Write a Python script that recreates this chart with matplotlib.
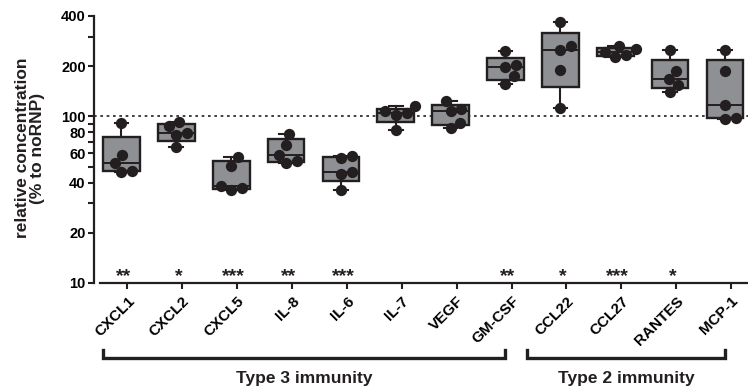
"""Relative cytokine concentrations (% to noRNP), box plots with dots."""
import numpy as np
import matplotlib
matplotlib.use("Agg")
from matplotlib import pyplot as plt
from matplotlib import ticker, transforms

plt.rcParams["font.family"] = ["Liberation Sans", "DejaVu Sans"]
plt.rcParams["font.weight"] = "bold"

categories = ["CXCL1", "CXCL2", "CXCL5", "IL-8", "IL-6", "IL-7",
              "VEGF", "GM-CSF", "CCL22", "CCL27", "RANTES", "MCP-1"]

cxcl1 = [91, 59, 52.5, 47, 46.4]
cxcl2 = [92, 87, 79.4, 77.6, 65.4]
cxcl5 = [57, 50.5, 38, 37.1, 36.3]
il8 = [78.3, 67.6, 58.8, 54.2, 52.5]
il6 = [58, 56.2, 46.1, 45.3, 36.3]
il7 = [114.7, 107, 104.7, 102.2, 83.1]
vegf = [124, 111, 108, 91.2, 85.1]
gmcsf = [245, 204, 198, 173.5, 157]
ccl22 = [366, 266, 251, 190, 112]
ccl27 = [263, 252, 244, 234, 228]
rantes = [248.5, 187.7, 167.4, 154.8, 140]
mcp1 = [248.5, 186, 117, 98, 97]
values = [cxcl1, cxcl2, cxcl5, il8, il6, il7, vegf, gmcsf,
          ccl22, ccl27, rantes, mcp1]

stars = ["**", "*", "***", "**", "***", "", "", "**", "*", "***", "*", ""]

groups = [("Type 3 immunity", "CXCL1", "GM-CSF"),
          ("Type 2 immunity", "CCL22", "MCP-1")]

y_ticks = [10, 20, 30, 40, 50, 60, 70, 80, 90, 100, 200, 300, 400]
y_labels = ["10", "20", "", "40", "", "60", "", "80", "", "100", "200", "", "400"]

DARK = "#231f20"
BOX = "#8e9093"


def box_stats(vals):
    """Box statistics the way Prism does it (min/max whiskers)."""
    q1, med, q3 = np.percentile(vals, [25, 50, 75], method="weibull")
    return dict(med=med, q1=q1, q3=q3, whislo=min(vals), whishi=max(vals),
                fliers=[])


def swarm_offsets(ax, vals, x0, diam):
    """Spread dots sideways so they do not overlap (in pixels)."""
    pts = ax.transData.transform(np.column_stack([np.full(len(vals), x0), vals]))
    ys = pts[:, 1]
    px_per_unit = (ax.transData.transform((1, 10))[0]
                   - ax.transData.transform((0, 10))[0])
    dx = np.zeros(len(vals))
    placed = []
    for k in np.argsort(ys):
        y = ys[k]
        cands = [0.0]
        blocks = []
        for px, py in placed:
            dy = abs(py - y)
            if dy < diam:
                h = np.sqrt(diam ** 2 - dy ** 2)
                blocks.append((px - h, px + h))
                cands += [px - h, px + h]
        ok = [c for c in cands
              if all(not (lo + 1e-6 < c < hi - 1e-6) for lo, hi in blocks)]
        best = min(ok, key=lambda c: (abs(c), -c))
        dx[k] = best
        placed.append((best, y))
    return dx / px_per_unit


fig = plt.figure(figsize=(7.48, 3.87), dpi=100)
ax = fig.add_axes([94 / 748, 104 / 387, 654 / 748, 267 / 387])
ax.set_yscale("log")
ax.set_xlim(-0.50, 11.42)
ax.set_ylim(10, 400)

pos = np.arange(len(categories))
ax.bxp([box_stats(v) for v in values], positions=pos, widths=0.67,
       capwidths=0.25, patch_artist=True, showfliers=False,
       boxprops=dict(facecolor=BOX, edgecolor=DARK, linewidth=1.7),
       medianprops=dict(color=DARK, linewidth=1.4),
       whiskerprops=dict(color=DARK, linewidth=1.5),
       capprops=dict(color=DARK, linewidth=1.5), zorder=2)

for i, v in enumerate(values):
    off = swarm_offsets(ax, v, pos[i], 11)
    ax.scatter(pos[i] + off, v, s=66, color=DARK, zorder=4, linewidths=0)

ax.axhline(100, color=DARK, linewidth=1.2, linestyle=(0, (1.6, 2.2)), zorder=1)

# axes styling (Prism look)
for side in ["top", "right"]:
    ax.spines[side].set_visible(False)
for side in ["left", "bottom"]:
    ax.spines[side].set_linewidth(1.6)
    ax.spines[side].set_color(DARK)
ax.spines["bottom"].set_bounds(-0.39, 11.42)

ax.yaxis.set_major_locator(ticker.FixedLocator(y_ticks))
ax.yaxis.set_major_formatter(ticker.FixedFormatter(y_labels))
ax.yaxis.set_minor_locator(ticker.NullLocator())
ax.tick_params(axis="y", length=4, width=1.5, color=DARK, labelsize=10.5, pad=2)
for lab in ax.get_yticklabels():
    lab.set_fontweight("bold")

ax.set_xticks(pos + 0.11)
ax.set_xticklabels(categories, rotation=45, ha="right", fontweight="bold",
                   rotation_mode="anchor", fontsize=11)
ax.tick_params(axis="x", length=4, width=1.5, color=DARK, pad=4)

for i, s in enumerate(stars):
    if s:
        ax.text(pos[i] + 0.04, 0.008, s, transform=ax.get_xaxis_transform(),
                ha="center", va="baseline", fontsize=14, fontweight="bold",
                color=DARK)

# group brackets below the tick labels
trans = transforms.blended_transform_factory(ax.transData, ax.transAxes)
pads = [0.33, 0.6]
for (name, first, last), pad in zip(groups, pads):
    x0 = categories.index(first) - pad
    x1 = categories.index(last)
    ax.plot([x0, x0, x1, x1], [-0.25, -0.282, -0.282, -0.25], color=DARK,
            linewidth=2.4, transform=trans, clip_on=False,
            solid_joinstyle="miter")
    ax.text((x0 + x1) / 2, -0.356, name, transform=trans, ha="center",
            va="center", fontsize=12.5, fontweight="bold", color=DARK)

fig.text(30 / 748, (387 - 148) / 387, "relative concentration\n(% to noRNP)",
         rotation=90, ha="center", va="center", multialignment="center",
         fontsize=12.5, fontweight="bold", linespacing=1.0, color=DARK)

fig.savefig("out.png", dpi=100)
